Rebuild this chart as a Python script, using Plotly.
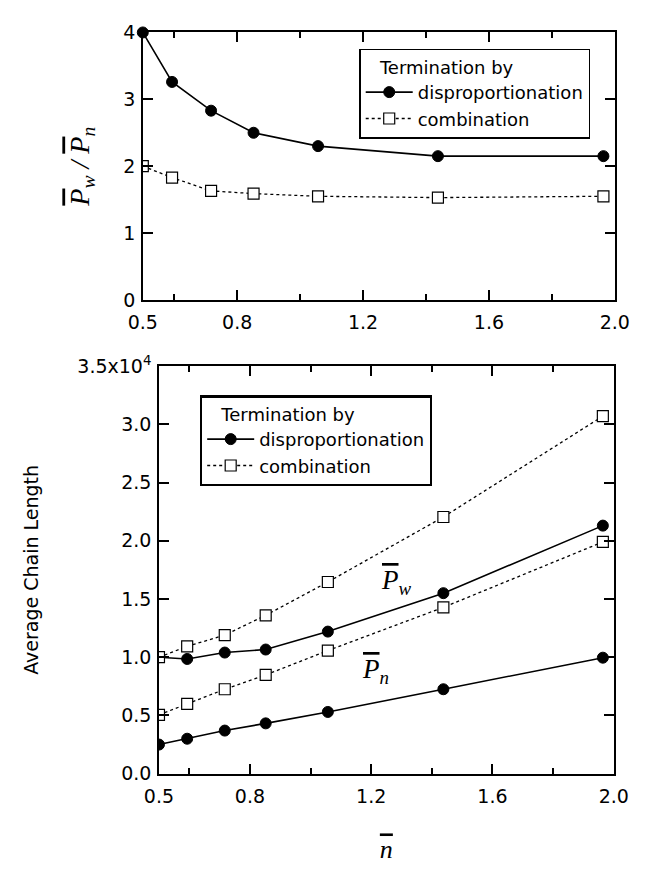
import plotly.graph_objects as go

# ---- data ----
nbar = [0.5, 0.593, 0.717, 0.852, 1.057, 1.438, 1.964]

ratio_disp = [4.0, 3.26, 2.83, 2.50, 2.30, 2.15, 2.15]
ratio_comb = [2.0, 1.83, 1.63, 1.59, 1.55, 1.53, 1.55]

# average chain length, in units of 1e4
pw_disp = [1.0, 0.985, 1.04, 1.066, 1.22, 1.55, 2.13]
pn_disp = [0.25, 0.30, 0.37, 0.432, 0.53, 0.725, 0.996]
pw_comb = [1.0, 1.093, 1.19, 1.36, 1.646, 2.204, 3.07]
pn_comb = [0.505, 0.60, 0.725, 0.848, 1.057, 1.428, 1.99]

x_tickvals = [0.5, 0.8, 1.2, 1.6, 2.0]
x_ticktext = ["0.5", "0.8", "1.2", "1.6", "2.0"]
x_minor = [0.6, 1.0, 1.4, 1.8]
top_y_ticks = [0, 1, 2, 3, 4]
bot_y_ticks = [0.0, 0.5, 1.0, 1.5, 2.0, 2.5, 3.0, 3.5]
bot_y_text = ["0.0", "0.5", "1.0", "1.5", "2.0", "2.5", "3.0", "3.5x10<sup>4</sup>"]

SANS = "DejaVu Sans"
SERIF = "Liberation Serif"
TICKC = "black"


def ob(s):
    return "<span style='text-decoration:overline'>" + s + "</span>"


disp_line = dict(color="black", width=1.6)
comb_line = dict(color="black", width=1.3, dash="dot")
disp_marker = dict(symbol="circle", size=11, color="black", line=dict(color="black", width=1))
comb_marker = dict(symbol="square", size=11, color="white", line=dict(color="black", width=1.2))

fig = go.Figure()

# top panel: Pw/Pn ratio
fig.add_trace(go.Scatter(x=nbar, y=ratio_comb, mode="lines+markers", name="combination",
                         line=comb_line, marker=comb_marker, xaxis="x", yaxis="y",
                         legend="legend", legendrank=2))
fig.add_trace(go.Scatter(x=nbar, y=ratio_disp, mode="lines+markers", name="disproportionation",
                         line=disp_line, marker=disp_marker, xaxis="x", yaxis="y",
                         legend="legend", legendrank=1, cliponaxis=False))

# bottom panel: average chain lengths
fig.add_trace(go.Scatter(x=nbar, y=pn_disp, mode="lines+markers", name="disproportionation",
                         line=disp_line, marker=disp_marker, xaxis="x2", yaxis="y2",
                         legend="legend2", legendrank=1, legendgroup="d"))
fig.add_trace(go.Scatter(x=nbar, y=pw_disp, mode="lines+markers", name="disproportionation",
                         line=disp_line, marker=disp_marker, xaxis="x2", yaxis="y2",
                         legend="legend2", legendgroup="d", showlegend=False))
fig.add_trace(go.Scatter(x=nbar, y=pn_comb, mode="lines+markers", name="combination",
                         line=comb_line, marker=comb_marker, xaxis="x2", yaxis="y2",
                         legend="legend2", legendrank=2, legendgroup="c"))
fig.add_trace(go.Scatter(x=nbar, y=pw_comb, mode="lines+markers", name="combination",
                         line=comb_line, marker=comb_marker, xaxis="x2", yaxis="y2",
                         legend="legend2", legendgroup="c", showlegend=False))

axis_common = dict(showline=True, linecolor="black", linewidth=1.5, mirror="ticks",
                   ticks="inside", tickcolor=TICKC, tickwidth=1.5, showgrid=False,
                   zeroline=False, tickfont=dict(family=SANS, size=19, color="black"))

xaxis_common = dict(axis_common, range=[0.5, 2.0], tickmode="array",
                    tickvals=x_tickvals, ticktext=x_ticktext, ticklen=10,
                    ticklabelstandoff=5,
                    minor=dict(tickmode="array", tickvals=x_minor, ticks="inside",
                               ticklen=6, tickcolor=TICKC, tickwidth=1.5, showgrid=False))

legend_common = dict(bgcolor="white", bordercolor="black",
                     font=dict(family=SANS, size=18, color="black"),
                     xanchor="left", yanchor="top", tracegroupgap=0,
                     itemwidth=47, traceorder="normal")

fig.update_layout(
    width=645, height=881,
    margin=dict(l=0, r=0, t=0, b=0),
    paper_bgcolor="white", plot_bgcolor="white",
    xaxis=dict(xaxis_common, domain=[0.2078, 0.9752], anchor="y"),
    yaxis=dict(axis_common, domain=[0.6652, 0.9773], range=[0, 4], anchor="x",
               tickmode="array", tickvals=top_y_ticks, ticklen=10, ticklabelstandoff=2,
               title=dict(text="<i>" + ob("P") + "<sub>w</sub> / " + ob("P") + "<sub>n</sub></i>",
                          font=dict(family=SERIF, size=28, color="black"), standoff=25)),
    xaxis2=dict(xaxis_common, domain=[0.2341, 0.9736], anchor="y2",
                title=dict(text="<i>" + ob("n") + "</i>", font=dict(family=SERIF, size=26, color="black"),
                           standoff=34)),
    yaxis2=dict(axis_common, domain=[0.1124, 0.5880], range=[0, 3.5], anchor="x2",
                tickmode="array", tickvals=bot_y_ticks, ticktext=bot_y_text, ticklen=10,
                ticklabelstandoff=2,
                title=dict(text="Average Chain Length", font=dict(family=SANS, size=19, color="black"),
                           standoff=34)),
    legend=dict(legend_common, x=0.5597, y=0.958, borderwidth=1.5,
                title=dict(text="   Termination by", font=dict(family=SANS, size=18, color="black"))),
    legend2=dict(legend_common, x=0.3008, y=0.5539, borderwidth=2.2,
                 title=dict(text="   Termination by", font=dict(family=SANS, size=18, color="black"))),
    annotations=[
        dict(x=1.283, y=1.646, xref="x2", yref="y2", showarrow=False,
             text="<i>" + ob("P") + "<sub>w</sub></i>", font=dict(family=SERIF, size=27, color="black")),
        dict(x=1.214, y=0.885, xref="x2", yref="y2", showarrow=False,
             text="<i>" + ob("P") + "<sub>n</sub></i>", font=dict(family=SERIF, size=27, color="black")),
    ],
)

fig.write_html("out.html")
